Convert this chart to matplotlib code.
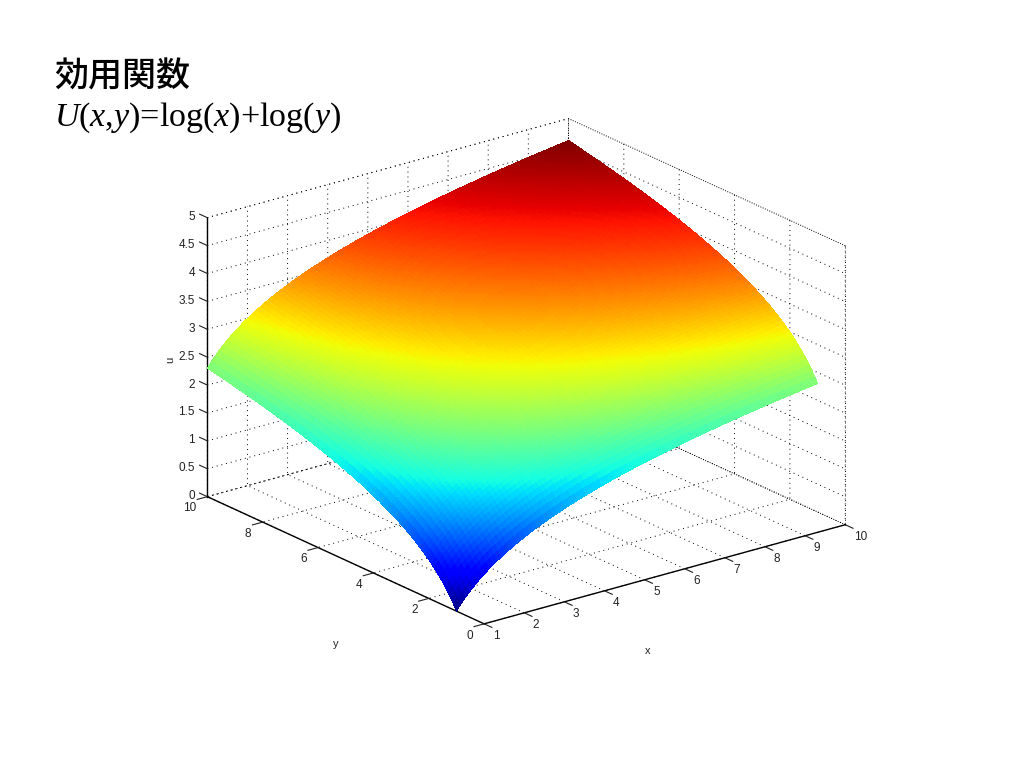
import numpy as np
import matplotlib
matplotlib.use("Agg")
import matplotlib.pyplot as plt

# edge of the surface, read along x (same along y): grid position, height u
grid_vals = [1.0, 1.1, 1.2, 1.3, 1.4, 1.5, 1.6, 1.7, 1.8, 1.9,
             2.0, 2.1, 2.2, 2.3, 2.4, 2.5, 2.6, 2.7, 2.8, 2.9,
             3.0, 3.1, 3.2, 3.3, 3.4, 3.5, 3.6, 3.7, 3.8, 3.9,
             4.0, 4.1, 4.2, 4.3, 4.4, 4.5, 4.6, 4.7, 4.8, 4.9,
             5.0, 5.1, 5.2, 5.3, 5.4, 5.5, 5.6, 5.7, 5.8, 5.9,
             6.0, 6.1, 6.2, 6.3, 6.4, 6.5, 6.6, 6.7, 6.8, 6.9,
             7.0, 7.1, 7.2, 7.3, 7.4, 7.5, 7.6, 7.7, 7.8, 7.9,
             8.0, 8.1, 8.2, 8.3, 8.4, 8.5, 8.6, 8.7, 8.8, 8.9,
             9.0, 9.1, 9.2, 9.3, 9.4, 9.5, 9.6, 9.7, 9.8, 9.9, 10.0]
edge_u = [0.000, 0.095, 0.182, 0.262, 0.336, 0.405, 0.470, 0.531, 0.588, 0.642,
          0.693, 0.742, 0.788, 0.833, 0.875, 0.916, 0.956, 0.993, 1.030, 1.065,
          1.099, 1.131, 1.163, 1.194, 1.224, 1.253, 1.281, 1.308, 1.335, 1.361,
          1.386, 1.411, 1.435, 1.459, 1.482, 1.504, 1.526, 1.548, 1.569, 1.589,
          1.609, 1.629, 1.649, 1.668, 1.686, 1.705, 1.723, 1.740, 1.758, 1.775,
          1.792, 1.808, 1.825, 1.841, 1.856, 1.872, 1.887, 1.902, 1.917, 1.932,
          1.946, 1.960, 1.974, 1.988, 2.001, 2.015, 2.028, 2.041, 2.054, 2.067,
          2.079, 2.092, 2.104, 2.116, 2.128, 2.140, 2.152, 2.163, 2.175, 2.186,
          2.197, 2.208, 2.219, 2.230, 2.241, 2.251, 2.262, 2.272, 2.282, 2.293, 2.303]

x_ticks = [1, 2, 3, 4, 5, 6, 7, 8, 9, 10]
y_ticks = [0, 2, 4, 6, 8, 10]
z_ticks = [0, 0.5, 1, 1.5, 2, 2.5, 3, 3.5, 4, 4.5, 5]
z_labels = ["0", "0.5", "1", "1.5", "2", "2.5", "3", "3.5", "4", "4.5", "5"]

title_jp = "効用関数"
title_formula = "$U$($x$,$y$)=log($x$)+log($y$)"


def main():
    plt.rcParams["font.family"] = ["Liberation Sans", "DejaVu Sans"]
    plt.rcParams["mathtext.fontset"] = "custom"
    plt.rcParams["mathtext.rm"] = "Liberation Serif"
    plt.rcParams["mathtext.it"] = "Liberation Serif:italic"
    plt.rcParams["grid.color"] = "black"
    plt.rcParams["grid.linestyle"] = (0, (1, 4))
    plt.rcParams["grid.linewidth"] = 0.7

    fig = plt.figure(figsize=(10.24, 7.68), dpi=100)
    size = 688
    left = (517 - size / 2) / 1024
    bottom = (387.5 - size / 2) / 768
    ax = fig.add_axes([left, bottom, size / 1024, size / 768], projection="3d",
                      proj_type="ortho", computed_zorder=False)
    ax.patch.set_alpha(0)
    ax.set_box_aspect((456.4, 452.6, 298.4), zoom=1)
    ax.view_init(elev=20.8, azim=-127.7)

    X, Y = np.meshgrid(grid_vals, grid_vals)
    edge = np.array(edge_u)
    U = np.add.outer(edge, edge)
    ax.plot_surface(X, Y, U, rstride=1, cstride=1, cmap="jet",
                    vmin=0, vmax=U.max(), linewidth=0, antialiased=False, shade=False,
                    zorder=3)

    ax.set_xlim(1, 10)
    ax.set_ylim(0, 10)
    ax.set_zlim(0, 5)
    ax.set_xticks(x_ticks)
    ax.set_yticks(y_ticks)
    ax.set_zticks(z_ticks)
    ax.set_zticklabels(z_labels)

    for axis in (ax.xaxis, ax.yaxis, ax.zaxis):
        axis.set_pane_color((1, 1, 1, 0))
        axis.pane.set_edgecolor("none")
        axis.line.set_color("black")
        axis.line.set_linewidth(1.0)
        # the inward factor is what points away from the box from this view
        axis._axinfo["tick"]["inward_factor"] = 0.35
        axis._axinfo["tick"]["outward_factor"] = 0.0
        axis._axinfo["tick"]["linewidth"] = {True: 0.8, False: 0.5}
        axis.set_tick_params(colors="#222222", labelsize=8.5, pad=0)
    ax.zaxis.set_tick_params(pad=-3)

    # z ticks run up and to the left in the original, along y
    ax.zaxis._get_tickdir = lambda pos: 1
    ax.zaxis._axinfo["tick"]["inward_factor"] = 0.0
    ax.zaxis._axinfo["tick"]["outward_factor"] = 0.35

    plt.setp(ax.get_xticklabels(), ha="left", va="center")
    plt.setp(ax.get_yticklabels(), ha="right", va="center")
    plt.setp(ax.get_zticklabels(), ha="right", va="center")

    # dotted back edges of the box
    dot = dict(color="black", linestyle=(0, (1, 4)), linewidth=0.7, zorder=1)
    ax.plot([1, 10], [10, 10], [5, 5], **dot)
    ax.plot([10, 10], [0, 10], [5, 5], **dot)
    ax.plot([10, 10], [0, 0], [0, 5], **dot)
    ax.plot([10, 10], [10, 10], [0, 5], **dot)
    ax.plot([1, 10], [10, 10], [0, 0], **dot)
    ax.plot([10, 10], [0, 10], [0, 0], **dot)

    # axis labels sit away from the middle of the axes in the original
    fig.text(648 / 1024, 1 - 651 / 768, "x", fontsize=8, color="#222222",
             ha="center", va="center")
    fig.text(336 / 1024, 1 - 644 / 768, "y", fontsize=8, color="#222222",
             ha="center", va="center")
    fig.text(170 / 1024, 1 - 360 / 768, "u", fontsize=8, color="#222222", rotation=90,
             ha="center", va="center")

    fig.text(54 / 1024, 1 - 86 / 768, title_jp, fontsize=24.5, color="black",
             weight="medium", family=["Noto Sans CJK JP", "DejaVu Sans"])
    fig.text(54 / 1024, 1 - 126 / 768, title_formula, fontsize=24.5, color="black",
             family=["Liberation Serif", "DejaVu Sans"])

    fig.savefig("out.png", dpi=100)


if __name__ == "__main__":
    main()
